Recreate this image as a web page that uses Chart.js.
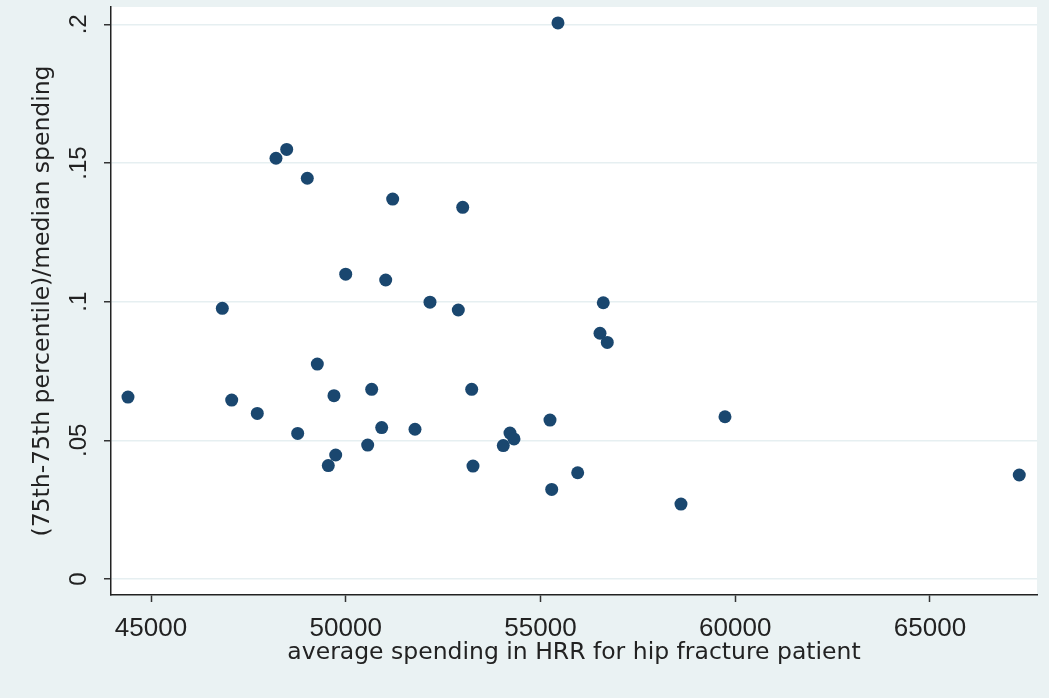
<!DOCTYPE html>
<html><head><meta charset="utf-8">
<script src="https://cdn.jsdelivr.net/npm/chart.js@4.4.1/dist/chart.umd.min.js"></script>
<style>html,body{margin:0;padding:0;background:#eaf2f3;overflow:hidden;}</style>
</head><body>
<canvas id="c" width="1049" height="698" style="display:block;width:1049px;height:698px"></canvas>
<script>
// Average spending in HRR for hip fracture patient (x) and (75th-75th percentile)/median spending (y)
const spendingX = [44409, 46831, 47072, 47729, 48209, 48484, 48766, 49013, 49270, 49552,
  49698, 49742, 49999, 50563, 50666, 50923, 51026, 51205, 51778, 52163,
  52890, 53003, 53234, 53267, 54045, 54217, 54320, 55244, 55288, 55449,
  55955, 56528, 56612, 56715, 58607, 59737, 67293];
const ratioY = [0.0656, 0.0976, 0.0645, 0.0597, 0.1517, 0.1549, 0.0525, 0.1445, 0.0775, 0.0409,
  0.0661, 0.0447, 0.1099, 0.0483, 0.0684, 0.0546, 0.1078, 0.1370, 0.0540, 0.0998,
  0.0970, 0.1340, 0.0684, 0.0407, 0.0481, 0.0526, 0.0505, 0.0573, 0.0323, 0.2005,
  0.0383, 0.0886, 0.0996, 0.0853, 0.0270, 0.0585, 0.0375];
const xTicks = [45000, 50000, 55000, 60000, 65000];
const xTickLabels = ['45000', '50000', '55000', '60000', '65000'];
const yTicks = [0, 0.05, 0.1, 0.15, 0.2];
const yTickLabels = ['0', '.05', '.1', '.15', '.2'];
const xTitle = 'average spending in HRR for hip fracture patient';
const yTitle = '(75th-75th percentile)/median spending';

const points = spendingX.map((x, i) => ({x: x, y: ratioY[i]}));

const bgPlugin = {
  id: 'bg',
  beforeDraw(chart) {
    const {ctx, chartArea: a} = chart;
    ctx.save();
    ctx.fillStyle = '#eaf2f3';
    ctx.fillRect(0, 0, chart.width, chart.height);
    ctx.fillStyle = '#ffffff';
    ctx.fillRect(a.left, a.top, a.right - a.left, a.bottom - a.top);
    ctx.restore();
  }
};

new Chart(document.getElementById('c'), {
  type: 'scatter',
  data: {
    datasets: [{
      data: points,
      backgroundColor: '#1a476f',
      borderColor: '#1a476f',
      borderWidth: 0,
      pointRadius: 6.5,
      pointHoverRadius: 6.5
    }]
  },
  options: {
    responsive: false,
    devicePixelRatio: 1,
    animation: false,
    layout: {padding: {top: 7, right: 12, left: 0, bottom: 0}},
    plugins: {legend: {display: false}, tooltip: {enabled: false}},
    scales: {
      x: {
        type: 'linear',
        min: 43973,
        max: 67748,
        afterBuildTicks: s => { s.ticks = xTicks.map(v => ({value: v})); },
        afterFit: s => { s.height = 103; s.paddingLeft = 0; s.paddingRight = 0; },
        grid: {drawOnChartArea: false, drawTicks: true, tickLength: 7, tickColor: '#333', tickWidth: 1.5},
        border: {display: true, color: '#222', width: 1.5},
        ticks: {
          autoSkip: false, maxRotation: 0, minRotation: 0, padding: 11,
          color: '#222', font: {family: 'Liberation Sans', size: 26},
          callback: (v, i) => xTickLabels[i]
        },
        title: {
          display: true, text: xTitle, color: '#222',
          font: {family: 'DejaVu Sans', size: 23.5, lineHeight: 1},
          padding: {top: 0, bottom: 33}
        }
      },
      y: {
        type: 'linear',
        min: -0.00577,
        max: 0.20624,
        afterBuildTicks: s => { s.ticks = yTicks.map(v => ({value: v})); },
        afterFit: s => { s.width = 111; s.paddingTop = 0; s.paddingBottom = 0; },
        grid: {color: '#e6eff1', lineWidth: 1.5, drawTicks: true, tickLength: 7, tickColor: '#333', tickWidth: 1.5},
        border: {display: true, color: '#222', width: 1.5},
        ticks: {
          minRotation: 90, maxRotation: 90, crossAlign: 'center', padding: 8,
          autoSkip: false, color: '#222', font: {family: 'Liberation Sans', size: 24},
          callback: (v, i) => yTickLabels[i]
        },
        title: {
          display: true, text: yTitle, color: '#222',
          font: {family: 'DejaVu Sans', size: 23.5, lineHeight: 1},
          padding: {top: 31, bottom: 0}
        }
      }
    }
  },
  plugins: [bgPlugin]
});
</script>
</body></html>
